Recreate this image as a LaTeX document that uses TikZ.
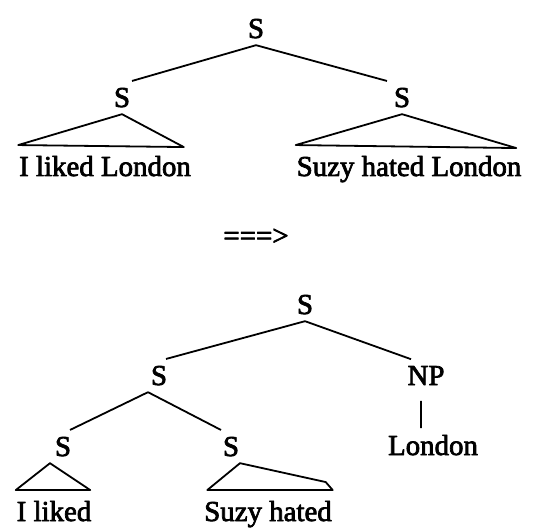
\documentclass[tikz,border=0pt]{standalone}
\usepackage{fontspec}
\setmainfont{Liberation Serif}[FakeBold=2.5]
\usetikzlibrary{calc}

\begin{document}
\begin{tikzpicture}[x=1bp, y=-1bp, line width=1.8bp, line join=round,
    every node/.style={font=\fontsize{29}{34}\selectfont},
    cat/.style={anchor=base, inner sep=6bp},
    words/.style={anchor=base, inner xsep=0pt, inner ysep=10bp}]
  \useasboundingbox (0,0) rectangle (544,532);

  % two sentences, conjoined
  \foreach \nm/\x/\y in {s0/256/38, s1/122/107, s2/402/107}{
    \node[cat] (\nm) at (\x,\y) {S};
  }
  \node[words] (w1) at (105,176) {I liked London};
  \node[words] (w2) at (409,176) {Suzy hated London};
  \draw (s0.south) -- ([xshift=10bp]s1.north);
  \draw (s0.south) -- ([xshift=-15bp]s2.north);
  \draw (s1.south) -- ([shift={(-8,2)}]w1.north east) -- (w1.north west) -- cycle;
  \draw (s2.south) -- ([shift={(-6,3)}]w2.north east) -- (w2.north west) -- cycle;

  \node (arr) at (256,237) {===>};

  % shared object raised out of both
  \foreach \nm/\x/\y/\lab in {t0/305/314/S, t1/159/385/S, np/426/385/NP,
                              t2/63/456/S, t3/231/456/S, ldn/433/455/London}{
    \node[cat] (\nm) at (\x,\y) {\lab};
  }
  \node[words] (w3) at (54,521) {I liked};
  \node[words] (w4) at (268,521) {Suzy hated};
  \draw (t0.south) -- ([xshift=7bp]t1.north);
  \draw (t0.south) -- ([xshift=-15bp]np.north);
  \draw ([xshift=-11bp]t1.south) -- ([xshift=7bp]t2.north);
  \draw ([xshift=-11bp]t1.south) -- ([xshift=-10bp]t3.north);
  \draw ([shift={(-5,9)}]np.south) -- ([xshift=-5bp]np.south |- ldn.north);
  \draw ([xshift=-13bp]t2.south) -- ([xshift=-2bp]w3.north east) -- (w3.north west) -- cycle;
  \draw ([xshift=9bp]t3.south) -- ([shift={(-7,-8)}]w4.north east)
    -- (w4.north east) -- ([xshift=4bp]w4.north west) -- cycle;
\end{tikzpicture}
\end{document}
